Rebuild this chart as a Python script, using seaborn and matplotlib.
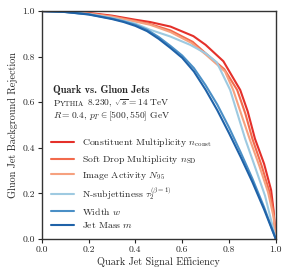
import numpy as np
import pandas as pd
import seaborn as sns
import matplotlib.pyplot as plt
from matplotlib.transforms import offset_copy

# ROC curves (quark efficiency, gluon rejection)
constX = [0, 0.1, 0.2, 0.3, 0.4, 0.463, 0.55, 0.648, 0.7, 0.776, 0.848, 0.88, 0.911, 0.95, 0.98, 0.99, 1.0]
constY = [1, 0.998, 0.992, 0.98, 0.962, 0.952, 0.932, 0.89, 0.852, 0.78, 0.654, 0.56, 0.44, 0.33, 0.215, 0.13, 0]

sdX = [0, 0.1, 0.2, 0.3, 0.4, 0.463, 0.55, 0.645, 0.7, 0.78, 0.835, 0.87, 0.9, 0.94, 0.975, 0.99, 1.0]
sdY = [1, 0.997, 0.99, 0.977, 0.957, 0.943, 0.915, 0.865, 0.815, 0.745, 0.654, 0.55, 0.44, 0.32, 0.2, 0.12, 0]

imgX = [0, 0.1, 0.2, 0.3, 0.4, 0.463, 0.55, 0.64, 0.7, 0.783, 0.818, 0.855, 0.89, 0.93, 0.967, 0.99, 1.0]
imgY = [1, 0.997, 0.989, 0.975, 0.954, 0.94, 0.908, 0.86, 0.81, 0.735, 0.654, 0.54, 0.434, 0.32, 0.205, 0.1, 0]

tauX = [0, 0.1, 0.2, 0.3, 0.4, 0.463, 0.548, 0.634, 0.7, 0.748, 0.805, 0.869, 0.91, 0.954, 1.0]
tauY = [1, 0.996, 0.987, 0.97, 0.945, 0.918, 0.889, 0.852, 0.815, 0.775, 0.654, 0.44, 0.32, 0.19, 0]

widthX = [0, 0.1, 0.2, 0.3, 0.35, 0.4, 0.45, 0.5, 0.55, 0.6, 0.65, 0.7, 0.75, 0.8, 0.85, 0.9, 0.95, 1.0]
widthY = [1, 0.996, 0.986, 0.967, 0.955, 0.94, 0.918, 0.886, 0.847, 0.805, 0.75, 0.675, 0.59, 0.49, 0.38, 0.265, 0.14, 0]

massX = [0, 0.1, 0.2, 0.3, 0.35, 0.4, 0.45, 0.5, 0.55, 0.6, 0.65, 0.7, 0.75, 0.8, 0.85, 0.9, 0.95, 1.0]
massY = [1, 0.996, 0.985, 0.965, 0.952, 0.935, 0.912, 0.878, 0.838, 0.795, 0.735, 0.655, 0.565, 0.465, 0.36, 0.25, 0.13, 0]

labels = [
    r"Constituent Multiplicity $n_{\rm const}$",
    r"Soft Drop Multiplicity $n_{\rm SD}$",
    r"Image Activity $N_{95}$",
    r"N-subjettiness $\tau_2^{(\beta=1)}$",
    r"Width $w$",
    r"Jet Mass $m$",
]
colors = ["#e4302a", "#f26a4c", "#f6a17f", "#9ecae1", "#4a8fc6", "#1f62a8"]

curves = [(constX, constY), (sdX, sdY), (imgX, imgY), (tauX, tauY), (widthX, widthY), (massX, massY)]
rows = []
for lab, (xs, ys) in zip(labels, curves):
    for x, y in zip(xs, ys):
        rows.append([x, y, lab])
df = pd.DataFrame(rows, columns=["eff", "rej", "obs"])

sns.set_style("ticks")
plt.rcParams["font.family"] = ["cmr10", "DejaVu Serif"]
plt.rcParams["mathtext.fontset"] = "cm"
plt.rcParams["axes.unicode_minus"] = False
plt.rcParams["axes.formatter.use_mathtext"] = True
plt.rcParams["axes.edgecolor"] = "#333333"

fig = plt.figure(figsize=(2.9, 2.77), dpi=100)
ax = fig.add_axes([0.144, 0.137, 0.807, 0.823])

sns.lineplot(
    data=df,
    x="eff",
    y="rej",
    hue="obs",
    hue_order=labels,
    palette=dict(zip(labels, colors)),
    estimator=None,
    sort=False,
    linewidth=1.5,
    ax=ax,
)

ax.set_xlim(0, 1)
ax.set_ylim(0, 1)
ticks = np.arange(0, 1.01, 0.2)
tickLabels = ["0.0", "0.2", "0.4", "0.6", "0.8", "1.0"]
ax.set_xticks(ticks)
ax.set_yticks(ticks)
ax.set_xticklabels(tickLabels)
ax.set_yticklabels(tickLabels)
ax.tick_params(labelsize=7, length=3, width=0.8, pad=2)
for s in ax.spines.values():
    s.set_linewidth(1.0)
ax.set_xlabel("Quark Jet Signal Efficiency", fontsize=7.3, labelpad=2)
ax.set_ylabel("Gluon Jet Background Rejection", fontsize=7.3, labelpad=3)

ax.text(0.05, 0.653, "Quark vs. Gluon Jets", fontsize=7.4, family=["cmb10", "DejaVu Serif"],
        va="center", transform=ax.transAxes)

# small caps "Pythia": pieces laid side by side on one baseline
pieces = [("P", 6.8), ("YTHIA", 5.3), (r" 8.230, $\sqrt{s} = 14$ TeV", 6.8)]
shift = 0.0
for txt, size in pieces:
    tr = offset_copy(ax.transAxes, fig=fig, x=shift, y=0, units="dots")
    t = ax.text(0.05, 0.582, txt, fontsize=size, va="baseline", transform=tr)
    fig.canvas.draw()
    shift += t.get_window_extent().width

ax.text(0.05, 0.539, r"$R = 0.4$, $p_T \in [500, 550]$ GeV", fontsize=6.9,
        va="center", transform=ax.transAxes)

ax.legend(loc="lower left", frameon=False, fontsize=7, handlelength=2.4,
          handletextpad=0.8, labelspacing=0.38, borderaxespad=0.5,
          bbox_to_anchor=(0.0, 0.0))

fig.savefig("out.png", dpi=100)
